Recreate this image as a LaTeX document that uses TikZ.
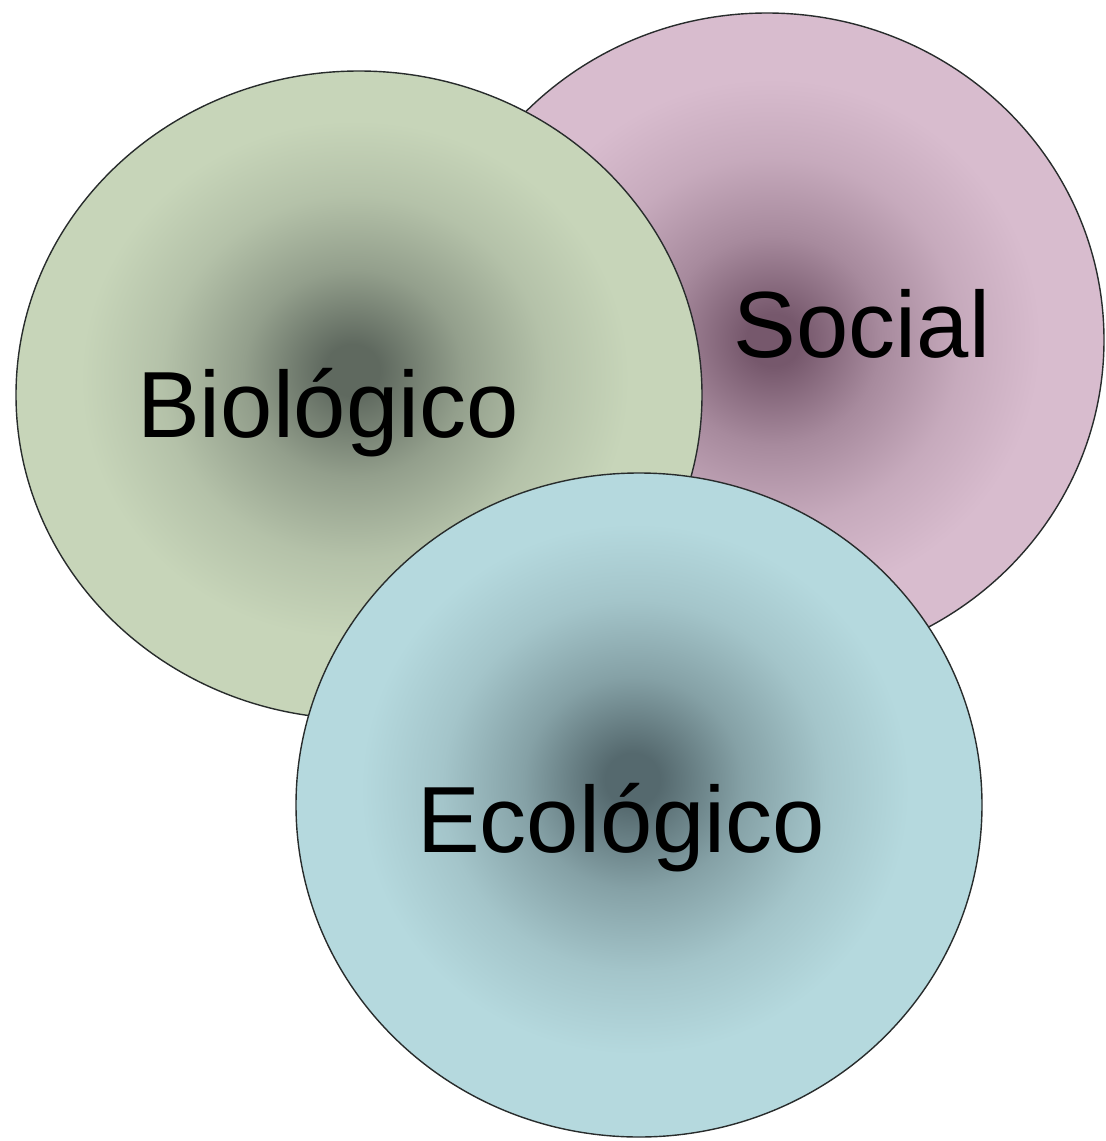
\documentclass[tikz,border=0pt]{standalone}
\usepackage{fontspec}
\setmainfont{Liberation Sans}
\usetikzlibrary{shapes.geometric}
\definecolor{bioLight}{RGB}{199,213,185}
\definecolor{bioDark}{RGB}{95,105,95}
\colorlet{bioMid}{bioDark!50!bioLight}
\colorlet{bioSoft}{bioDark!18!bioLight}
\definecolor{socLight}{RGB}{216,188,206}
\definecolor{socDark}{RGB}{118,88,108}
\colorlet{socMid}{socDark!50!socLight}
\colorlet{socSoft}{socDark!18!socLight}
\definecolor{ecoLight}{RGB}{181,217,222}
\definecolor{ecoDark}{RGB}{85,105,110}
\colorlet{ecoMid}{ecoDark!50!ecoLight}
\colorlet{ecoSoft}{ecoDark!18!ecoLight}
\definecolor{rimColor}{RGB}{40,44,44}
\pgfdeclareradialshading{bioShade}{\pgfpoint{-0.5bp}{2bp}}{color(0bp)=(bioDark); color(2bp)=(bioDark); color(8bp)=(bioMid); color(14bp)=(bioSoft); color(20bp)=(bioLight); color(50bp)=(bioLight)}
\pgfdeclareradialshading{socShade}{\pgfpoint{0.5bp}{0bp}}{color(0bp)=(socDark); color(2bp)=(socDark); color(8bp)=(socMid); color(14bp)=(socSoft); color(20bp)=(socLight); color(50bp)=(socLight)}
\pgfdeclareradialshading{ecoShade}{\pgfpoint{-0.5bp}{2bp}}{color(0bp)=(ecoDark); color(2bp)=(ecoDark); color(8bp)=(ecoMid); color(14bp)=(ecoSoft); color(20bp)=(ecoLight); color(50bp)=(ecoLight)}
\begin{document}
\begin{tikzpicture}[x=0.5pt,y=-0.5pt,
  blob/.style={ellipse, draw=rimColor, line width=0.7pt, inner sep=0pt},
  label/.style={anchor=base, inner sep=0pt, font=\fontsize{47}{56}\selectfont, text=black}]
\useasboundingbox (0,0) rectangle (1105,1141);
\node[blob, shading=socShade, minimum width=337pt, minimum height=327pt] (social) at (767,340) {};
\node[blob, shading=bioShade, minimum width=343pt, minimum height=324pt] (bio) at (359,395) {};
\node[blob, shading=ecoShade, minimum width=343pt, minimum height=332pt] (eco) at (639,805) {};
\node[label] (tbio) at (328,437) {Biológico};
\node[label] (tsoc) at (862,357) {Social};
\node[label] (teco) at (621,852) {Ecológico};
\end{tikzpicture}
\end{document}
